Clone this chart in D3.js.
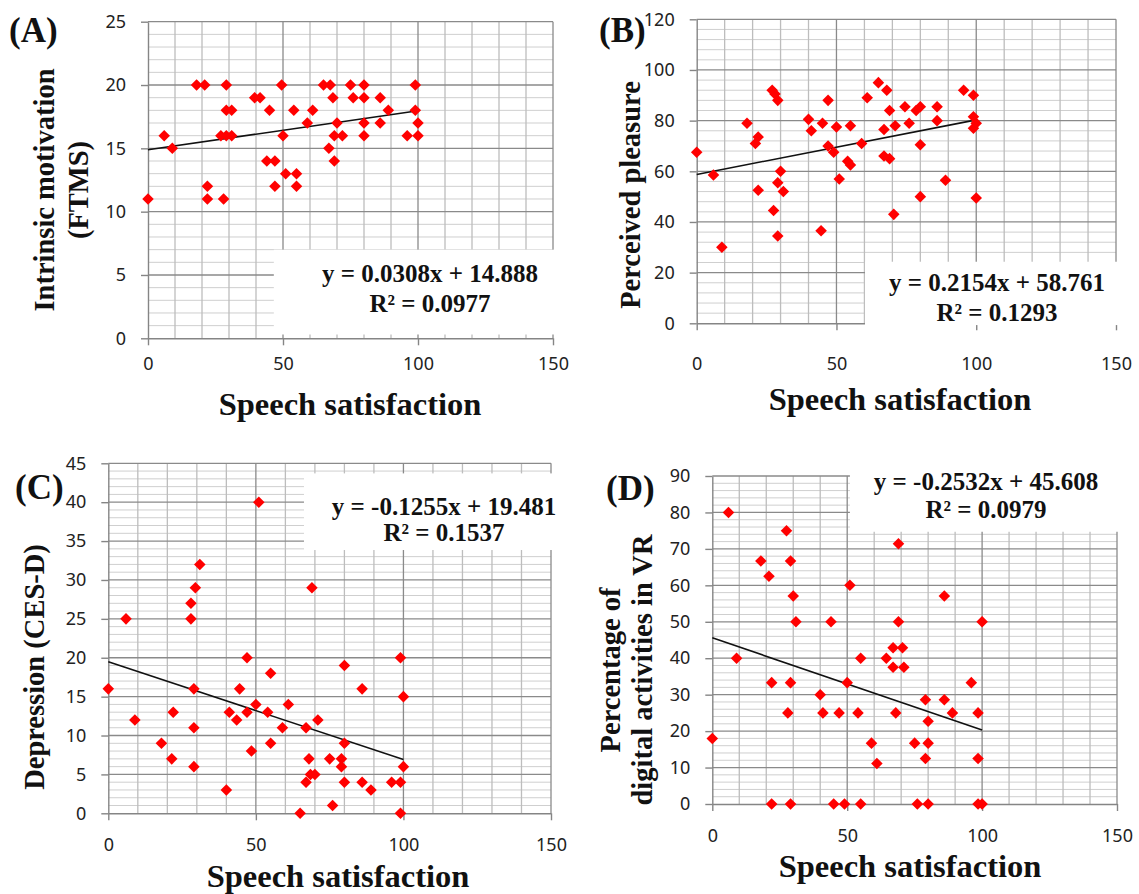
<!DOCTYPE html>
<html>
<head>
<meta charset="utf-8">
<script src="https://cdn.jsdelivr.net/npm/d3@7"></script>
<style>
  body { margin: 0; background: #fff; }
  svg { display: block; }
  .tick text { font-family: "Noto Sans", sans-serif; font-size: 18px; fill: #222; }
  .serif { font-family: "Liberation Serif", "Times New Roman", serif; font-weight: bold; fill: #111; }
</style>
</head>
<body>
<div id="chart"></div>
<script>

// data (x = speech satisfaction)

const SAT_A = [0, 6, 9, 18, 21, 22, 22, 28, 27, 29, 29, 31, 29, 31, 39.5, 41.5, 45, 44, 47, 47,
               49.5, 50, 51, 54, 55, 55, 59, 61, 65, 67.5, 68.5, 67, 69, 70, 69, 72, 75, 76, 80, 80,
               80, 80, 86, 86, 89, 96, 99, 99, 100, 100];
const MOTIVATION = [11, 16, 15, 20, 20, 12, 11, 11, 16, 20, 18, 18, 16, 16, 19, 19, 18, 14, 14, 12,
                    20, 16, 13, 18, 13, 12, 17, 18, 20, 20, 19, 15, 14, 17, 16, 16, 20, 19, 20, 19,
                    17, 16, 19, 17, 18, 16, 20, 18, 17, 16];

const SAT_B = [0, 6, 9, 18, 22, 21, 22, 27, 28, 29, 27.5, 29, 30, 31, 29, 40, 41, 44.5, 45, 47,
               47, 49, 50, 51, 54, 55, 55, 59, 61, 65, 67, 67, 68, 69, 69, 70.5, 71, 74.5, 76, 78.5,
               80, 80, 80, 86, 86, 89, 95.5, 99, 99, 99, 100, 100];
const PLEASURE = [67.5, 58.5, 30, 79, 73.5, 71, 52.5, 92, 90.5, 88, 44.5, 55.5, 60, 52, 34.5, 80.5, 76, 36.5, 79, 88,
                  70, 67.5, 77.5, 57, 64, 62.5, 78, 71, 89, 95, 76.5, 66, 92, 84, 65, 43, 78, 85.5, 79, 84,
                  85.5, 70.5, 50, 85.5, 80, 56.5, 92, 90, 81.5, 77, 79, 49.5];

const SAT_C = [0, 6, 9, 18, 21.5, 22, 28, 28, 29.5, 31, 29, 29, 29, 40, 41, 43.5, 44.5, 47, 47, 48.5,
               50, 51, 54, 55, 55, 59, 61, 65, 67, 67, 68, 68.5, 69, 70, 71, 75, 76, 79, 79, 80,
               80, 80, 86, 86, 89, 96, 99, 99, 99, 100, 100];
const DEPRESSION = [16, 25, 12, 9, 7, 13, 25, 27, 29, 32, 16, 11, 6, 3, 13, 12, 16, 20, 13, 8,
                    14, 40, 13, 18, 9, 11, 14, 0, 11, 4, 7, 5, 29, 5, 12, 7, 1, 7, 6, 19,
                    9, 4, 16, 4, 3, 4, 20, 4, 0, 15, 6];

const SAT_D = [0, 6, 9, 18, 21, 22, 22, 27.5, 29, 30, 31, 29, 28, 29, 40, 41, 44, 45, 47, 49,
               50, 51, 54, 55, 55, 59, 61, 64.5, 67, 67, 68, 69, 69, 70.5, 71, 75, 76, 79, 79, 80,
               80, 80, 86, 86, 89, 96, 98.5, 98.5, 98.5, 100, 100];
const DIGITAL_PCT = [18, 80, 40, 66.7, 62.5, 33.3, 0, 75, 66.7, 57.1, 50, 33.3, 25, 0, 30, 25, 50, 0, 25, 0,
                     33.3, 60, 25, 40, 0, 16.7, 11.1, 40, 42.9, 37.5, 25, 71.4, 50, 42.9, 37.5, 16.7, 0, 12.5, 28.6, 22.7,
                     16.7, 0, 57.1, 28.6, 25, 33.3, 25, 12.5, 0, 0, 50];

// tick labels
const X_TICKS = [0, 50, 100, 150];
const Y_TICKS_A = [0, 5, 10, 15, 20, 25];
const Y_TICKS_B = [0, 20, 40, 60, 80, 100, 120];
const Y_TICKS_C = [0, 5, 10, 15, 20, 25, 30, 35, 40, 45];
const Y_TICKS_D = [0, 10, 20, 30, 40, 50, 60, 70, 80, 90];

// linear fits [slope, intercept] and their labels
const FIT_A = [0.0308, 14.888];
const FIT_B = [0.2154, 58.761];
const FIT_C = [-0.1255, 19.481];
const FIT_D = [-0.2532, 45.608];
const EQ_A = ["y = 0.0308x + 14.888", "R² = 0.0977"];
const EQ_B = ["y = 0.2154x + 58.761", "R² = 0.1293"];
const EQ_C = ["y = -0.1255x + 19.481", "R² = 0.1537"];
const EQ_D = ["y = -0.2532x + 45.608", "R² = 0.0979"];

const X_TITLE = "Speech satisfaction";


//declare constants

const FRAME_WIDTH = 1139;
const FRAME_HEIGHT = 894;

const FRAME = d3.select("#chart")
                .append("svg")
                  .attr("width", FRAME_WIDTH)
                  .attr("height", FRAME_HEIGHT);

// panel layout (pixels) + data hookup
const PANELS = [
  {label: "(A)", lx: 9, ly: 42, xs: SAT_A, ys: MOTIVATION, yTicks: Y_TICKS_A, yMinor: 1,
   left: 148, right: 553, top: 21.7, bottom: 338.3, xPad: 12,
   box: [46.6, 0.3, 153, 7], fit: FIT_A, eq: EQ_A, eqX: 430, eqY: [281.7, 311.7],
   xtX: 350, xtY: 415, yTitle: ["Intrinsic motivation", "(FTMS)"], ytX: [44, 78], ytY: 190},
  {label: "(B)", lx: 599, ly: 42, xs: SAT_B, ys: PLEASURE, yTicks: Y_TICKS_B, yMinor: 4,
   left: 696.7, right: 1116, top: 19.3, bottom: 323.3, xPad: 27,
   box: [60.2, -0.7, 153, 24.3], fit: FIT_B, eq: EQ_B, eqX: 997, eqY: [291, 321],
   xtX: 900, xtY: 410, yTitle: ["Perceived pleasure"], ytX: [630], ytY: 195},
  {label: "(C)", lx: 15, ly: 499, xs: SAT_C, ys: DEPRESSION, yTicks: Y_TICKS_C, yMinor: 1,
   left: 108.3, right: 551, top: 463.3, bottom: 813.3, xPad: 18,
   box: [66.3, 33.85, 153, 43.7], fit: FIT_C, eq: EQ_C, eqX: 444, eqY: [515, 540.7],
   xtX: 338, xtY: 886.7, yTitle: ["Depression (CES-D)"], ytX: [34], ytY: 667},
  {label: "(D)", lx: 606, ly: 499.5, xs: SAT_D, ys: DIGITAL_PCT, yTicks: Y_TICKS_D, yMinor: 2,
   left: 712.3, right: 1117, top: 476, bottom: 804, xPad: 18,
   box: [51, 74.7, 153, 91.6], fit: FIT_D, eq: EQ_D, eqX: 986, eqY: [490, 518.3],
   xtX: 910, xtY: 877, yTitle: ["Percentage of", "digital activities in VR"], ytX: [610, 642], ytY: 670}
];


// function for one scatter panel

function build_panel(p) {

  const Y_MAX = p.yTicks[p.yTicks.length - 1];
  const Y_MAJOR = p.yTicks[1];

  const X_SCALE = d3.scaleLinear()
                    .domain([0, 150])
                    .range([p.left, p.right]);

  const Y_SCALE = d3.scaleLinear()
                    .domain([0, Y_MAX])
                    .range([p.bottom, p.top]);

  const G = FRAME.append("g");

  // minor grid
  G.selectAll(".hminor")
    .data(d3.range(0, Y_MAX + 0.001, p.yMinor).filter((v) => { return v % Y_MAJOR != 0; }))
    .enter()
    .append("line")
      .attr("x1", p.left).attr("x2", p.right)
      .attr("y1", (d) => { return Y_SCALE(d); })
      .attr("y2", (d) => { return Y_SCALE(d); })
      .attr("stroke", "#cfcfcf")
      .attr("stroke-width", 1);

  G.selectAll(".vminor")
    .data(d3.range(10, 150, 10).filter((v) => { return v % 50 != 0; }))
    .enter()
    .append("line")
      .attr("x1", (d) => { return X_SCALE(d); })
      .attr("x2", (d) => { return X_SCALE(d); })
      .attr("y1", p.top).attr("y2", p.bottom)
      .attr("stroke", "#bdbdbd")
      .attr("stroke-width", 1.3);

  // major grid
  G.selectAll(".hmajor")
    .data(p.yTicks.slice(1))
    .enter()
    .append("line")
      .attr("x1", p.left).attr("x2", p.right)
      .attr("y1", (d) => { return Y_SCALE(d); })
      .attr("y2", (d) => { return Y_SCALE(d); })
      .attr("stroke", "#8a8a8a")
      .attr("stroke-width", 1.3);

  G.selectAll(".vmajor")
    .data([50, 100, 150])
    .enter()
    .append("line")
      .attr("x1", (d) => { return X_SCALE(d); })
      .attr("x2", (d) => { return X_SCALE(d); })
      .attr("y1", p.top).attr("y2", p.bottom)
      .attr("stroke", "#8a8a8a")
      .attr("stroke-width", 1.3);

  // axes
  G.append("g")
    .attr("transform", "translate(" + p.left + ",0)")
    .call(d3.axisLeft(Y_SCALE).tickValues(p.yTicks)
            .tickSize(7).tickSizeOuter(0).tickPadding(15));

  G.append("g")
    .attr("transform", "translate(0," + p.bottom + ")")
    .call(d3.axisBottom(X_SCALE).tickValues(X_TICKS)
            .tickSize(7).tickSizeOuter(0).tickPadding(p.xPad));

  G.selectAll(".domain, .tick line")
    .attr("stroke", "#858585")
    .attr("stroke-width", 1.4);

  // white box behind the equation
  G.append("rect")
    .attr("x", X_SCALE(p.box[0]))
    .attr("y", Y_SCALE(p.box[3]))
    .attr("width", X_SCALE(p.box[2]) - X_SCALE(p.box[0]))
    .attr("height", Y_SCALE(p.box[1]) - Y_SCALE(p.box[3]))
    .attr("fill", "#fff");

  // trend line
  G.append("line")
    .attr("x1", X_SCALE(0))
    .attr("y1", Y_SCALE(p.fit[1]))
    .attr("x2", X_SCALE(100))
    .attr("y2", Y_SCALE(p.fit[0] * 100 + p.fit[1]))
    .attr("stroke", "#111")
    .attr("stroke-width", 1.6);

  // points
  const SYMBOL = d3.symbol().type(d3.symbolDiamond2).size(85);

  G.selectAll(".point")
    .data(d3.zip(p.xs, p.ys))
    .enter()
    .append("path")
      .attr("d", SYMBOL)
      .attr("transform", (d) => { return "translate(" + X_SCALE(d[0]) + "," + Y_SCALE(d[1]) + ")"; })
      .attr("fill", "#ff0000")
      .attr("class", "point");

  // equation
  G.selectAll(".eq")
    .data(p.eq)
    .enter()
    .append("text")
      .attr("class", "serif")
      .attr("x", p.eqX)
      .attr("y", (d, i) => { return p.eqY[i]; })
      .attr("text-anchor", "middle")
      .attr("font-size", "25px")
      .text((d) => { return d; });

  // axis titles
  G.append("text")
    .attr("class", "serif")
    .attr("x", p.xtX)
    .attr("y", p.xtY)
    .attr("text-anchor", "middle")
    .attr("font-size", "32.5px")
    .text(X_TITLE);

  p.yTitle.forEach((t, i) => {
    G.append("text")
      .attr("class", "serif")
      .attr("transform", "translate(" + p.ytX[i] + "," + p.ytY + ") rotate(-90)")
      .attr("dy", "0.35em")
      .attr("text-anchor", "middle")
      .attr("font-size", "28.5px")
      .text(t);
  });

  // panel letter
  G.append("text")
    .attr("class", "serif")
    .attr("x", p.lx)
    .attr("y", p.ly)
    .attr("font-size", "35px")
    .text(p.label);
}

PANELS.forEach(build_panel);

</script>
</body>
</html>
